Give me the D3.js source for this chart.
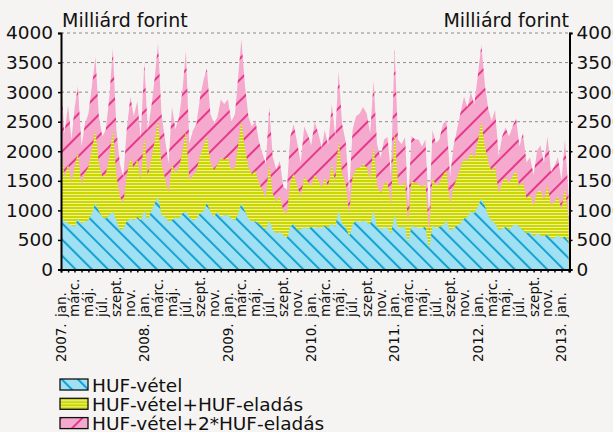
<!DOCTYPE html>
<html>
<head>
<meta charset="utf-8">
<script src="https://cdn.jsdelivr.net/npm/d3@7.9.0/dist/d3.min.js"></script>
<style>
  html, body { margin: 0; padding: 0; background: #f5f4f2; }
  svg { display: block; font-family: "DejaVu Sans", sans-serif; }
</style>
</head>
<body>
<svg id="chart" width="613" height="432"></svg>
<script>
// HUF-vétel, half-monthly readings (1st and 16th of each month), milliárd forint
const hufVetel = [
  // 2007
  890, 810, 780, 750, 720, 860, 780, 810, 830, 950, 1120, 980,
  890, 860, 920, 980, 830, 670, 690, 810, 860, 830, 890, 830,
  // 2008
  1000, 830, 1000, 1120, 1230, 920, 890, 810, 830, 890, 860, 950,
  980, 890, 830, 860, 950, 980, 1120, 980, 890, 980, 890, 920,
  // 2009
  920, 860, 830, 950, 1120, 980, 860, 810, 810, 780, 720, 670,
  830, 670, 610, 640, 580, 530, 720, 780, 670, 680, 720, 690,
  // 2010
  720, 700, 720, 700, 740, 700, 780, 720, 1000, 780, 720, 560,
  760, 830, 800, 830, 800, 760, 1000, 720, 690, 700, 720, 600,
  // 2011
  920, 700, 720, 720, 450, 740, 720, 700, 700, 720, 350, 740,
  700, 720, 740, 830, 650, 700, 740, 780, 860, 890, 980, 950,
  // 2012 - 2013 febr.
  1060, 1200, 1060, 900, 830, 780, 670, 690, 720, 670, 740, 760,
  720, 670, 610, 640, 560, 610, 580, 560, 590, 530, 530, 580,
  530, 560, 470
];

// HUF-eladás, same dates
const hufEladas = [
  // 2007
  1160, 745, 1000, 720, 1000, 1120, 650, 830, 900, 1070, 1240, 800,
  680, 750, 1000, 1380, 760, 560, 440, 780, 1030, 880, 980, 700,
  // 2008
  1250, 760, 880, 1070, 1300, 860, 650, 490, 960, 740, 860, 1040,
  1360, 620, 760, 800, 980, 1110, 1140, 830, 790, 800, 990, 940,
  // 2009
  980, 820, 900, 1180, 1390, 1080, 860, 800, 860, 700, 620, 560,
  960, 620, 540, 600, 410, 410, 760, 840, 730, 560, 850, 800,
  // 2010
  690, 900, 790, 680, 810, 700, 1010, 760, 1180, 840, 720, 370,
  800, 880, 920, 960, 920, 770, 1100, 700, 600, 750, 760, 500,
  // 2011
  1420, 750, 700, 760, 320, 760, 740, 750, 690, 740, 280, 810,
  720, 740, 860, 850, 460, 690, 810, 930, 1030, 930, 1010, 920,
  // 2012 - 2013 febr.
  1120, 1300, 1020, 900, 840, 960, 620, 780, 840, 790, 840, 900,
  680, 820, 600, 630, 520, 700, 760, 620, 830, 560, 610, 660,
  490, 820, 400
];

const years = [2007, 2008, 2009, 2010, 2011, 2012, 2013];
const monthNames = ['jan.', 'márc.', 'máj.', 'júl.', 'szept.', 'nov.'];
const yTicks = [0, 500, 1000, 1500, 2000, 2500, 3000, 3500, 4000];
const seriesNames = ['HUF-vétel', 'HUF-vétel+HUF-eladás', 'HUF-vétel+2*HUF-eladás'];

const data = hufVetel.map((v, i) => ({
  date: new Date(2007, Math.floor(i / 2), i % 2 ? 16 : 1),
  vetel: v,
  vetelEladas: v + hufEladas[i],
  vetel2Eladas: v + 2 * hufEladas[i]
}));

const svg = d3.select('#chart');
const plotLeft = 61, plotRight = 569.5, plotTop = 33, plotBottom = 269.5;

const x = d3.scaleTime()
  .domain([new Date(2007, 0, 1), new Date(2013, 1, 5)])
  .range([plotLeft, plotRight]);
const y = d3.scaleLinear().domain([0, 4000]).range([plotBottom, plotTop]);

// patterns
const defs = svg.append('defs');
const blue = defs.append('pattern')
  .attr('id', 'pBlue').attr('patternUnits', 'userSpaceOnUse')
  .attr('width', 11.5).attr('height', 11.5)
  .attr('patternTransform', 'rotate(-45)');
blue.append('rect').attr('width', 11.5).attr('height', 11.5).attr('fill', '#9fe0f3');
blue.append('rect').attr('width', 2).attr('height', 11.5).attr('fill', '#13a2d4');

const yel = defs.append('pattern')
  .attr('id', 'pYellow').attr('patternUnits', 'userSpaceOnUse')
  .attr('width', 6).attr('height', 3);
yel.append('rect').attr('width', 6).attr('height', 3).attr('fill', '#edf096');
yel.append('rect').attr('width', 6).attr('height', 2).attr('fill', '#ccd700');

const pink = defs.append('pattern')
  .attr('id', 'pPink').attr('patternUnits', 'userSpaceOnUse')
  .attr('width', 15).attr('height', 15)
  .attr('patternTransform', 'rotate(45)');
pink.append('rect').attr('width', 15).attr('height', 15).attr('fill', '#f5a9cd');
pink.append('rect').attr('width', 2).attr('height', 15).attr('fill', '#e6388b');

// grid
svg.append('g')
  .selectAll('line')
  .data(yTicks.filter(d => d > 0))
  .join('line')
  .attr('x1', plotLeft).attr('x2', plotRight)
  .attr('y1', d => y(d)).attr('y2', d => y(d))
  .attr('stroke', '#8a8a8a')
  .attr('stroke-width', 1)
  .attr('stroke-dasharray', '3,3');

// areas
const area = key => d3.area()
  .x(d => x(d.date))
  .y0(y(0))
  .y1(d => y(d[key]));

svg.append('path').datum(data).attr('d', area('vetel2Eladas')).attr('fill', 'url(#pPink)');
svg.append('path').datum(data).attr('d', area('vetelEladas')).attr('fill', 'url(#pYellow)');
svg.append('path').datum(data).attr('d', area('vetel')).attr('fill', 'url(#pBlue)');

// axes
const fmt = d3.format('d');
const leftAxis = svg.append('g')
  .attr('transform', `translate(${plotLeft},0)`)
  .call(d3.axisLeft(y).tickValues(yTicks).tickFormat(fmt).tickSize(3).tickPadding(5));
const rightAxis = svg.append('g')
  .attr('transform', `translate(${plotRight},0)`)
  .call(d3.axisRight(y).tickValues(yTicks).tickFormat(fmt).tickSize(3).tickPadding(4));
[leftAxis, rightAxis].forEach(g => {
  g.select('.domain').attr('stroke', '#000').attr('stroke-width', 2);
  g.selectAll('.tick line').attr('stroke', '#000').attr('stroke-width', 1.5);
  g.selectAll('.tick text')
    .attr('font-family', '"DejaVu Sans", sans-serif')
    .attr('font-size', 18.5).attr('fill', '#111');
});

const monthTicks = d3.timeMonth.range(new Date(2007, 0, 1), new Date(2013, 1, 2));
const xAxis = svg.append('g')
  .attr('transform', `translate(0,${plotBottom})`)
  .call(d3.axisBottom(x).tickValues(monthTicks).tickSize(3).tickFormat(''));
xAxis.select('.domain').attr('stroke', '#000').attr('stroke-width', 2);
xAxis.selectAll('.tick line').attr('stroke', '#000').attr('stroke-width', 1.5);

// month labels
const labelDates = d3.timeMonth.every(2).range(new Date(2007, 0, 1), new Date(2013, 0, 2));
svg.append('g')
  .selectAll('text')
  .data(labelDates)
  .join('text')
  .attr('transform', d => `translate(${x(d)},317) rotate(-90)`)
  .attr('dy', '0.36em')
  .attr('font-size', 13.5)
  .attr('fill', '#111')
  .text(d => monthNames[d.getMonth() / 2]);

svg.append('g')
  .selectAll('text')
  .data(years)
  .join('text')
  .attr('transform', d => `translate(${x(new Date(d, 0, 1))},362) rotate(-90)`)
  .attr('dy', '0.36em')
  .attr('font-size', 13.5)
  .attr('fill', '#111')
  .text(d => d + '.');

// unit labels
svg.append('text').attr('x', 62).attr('y', 27)
  .attr('font-size', 19).attr('fill', '#111').text('Milliárd forint');
svg.append('text').attr('x', 569).attr('y', 27).attr('text-anchor', 'end')
  .attr('font-size', 19).attr('fill', '#111').text('Milliárd forint');

// legend
const fills = ['url(#pBlue)', 'url(#pYellow)', 'url(#pPink)'];
const legend = svg.append('g')
  .selectAll('g')
  .data(seriesNames)
  .join('g')
  .attr('transform', (d, i) => `translate(60,${379 + i * 19.3})`);
legend.append('rect')
  .attr('width', 28).attr('height', 11)
  .attr('fill', (d, i) => fills[i])
  .attr('stroke', '#111').attr('stroke-width', 1.3);
legend.append('text')
  .attr('x', 32).attr('y', 12.5)
  .attr('font-size', 18.5).attr('fill', '#111')
  .text(d => d);
</script>
</body>
</html>
